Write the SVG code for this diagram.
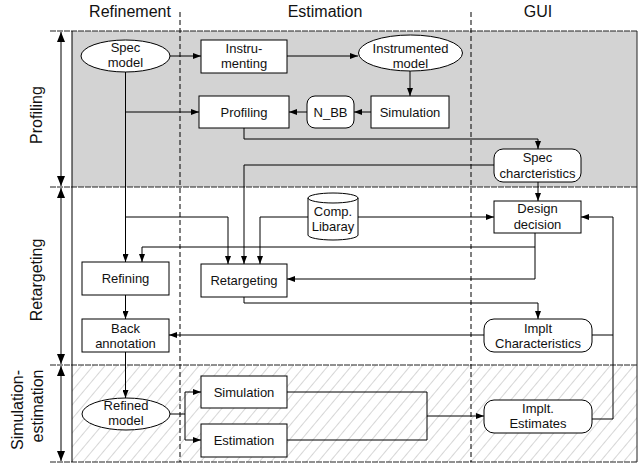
<svg xmlns="http://www.w3.org/2000/svg" width="638" height="463" viewBox="0 0 638 463">
<style>
text{font-family:"Liberation Sans",Arial,sans-serif;fill:#111}
.t{font-size:13px;text-anchor:middle}
.h{font-size:16px;text-anchor:middle}
.box{fill:#fff;stroke:#000;stroke-width:1}
.c{fill:none;stroke:#000;stroke-width:1}
.ca{fill:none;stroke:#000;stroke-width:1;marker-end:url(#ah)}
.band{fill:none;stroke:#222;stroke-width:1;stroke-dasharray:6,1}
.dash{stroke:#000;stroke-width:1;stroke-dasharray:5,3}
.da{stroke:#000;stroke-width:1;marker-start:url(#big);marker-end:url(#big)}
</style>
<defs>
<marker id="ah" markerUnits="userSpaceOnUse" markerWidth="8" markerHeight="6" refX="8" refY="3" orient="auto"><path d="M0,0 L8,3 L0,6 z" fill="#000"/></marker>
<marker id="big" markerUnits="userSpaceOnUse" markerWidth="10" markerHeight="8" refX="10" refY="4" orient="auto-start-reverse"><path d="M0,0 L10,4 L0,8 z" fill="#000"/></marker>
<pattern id="hatch" patternUnits="userSpaceOnUse" width="9" height="9" patternTransform="rotate(40)"><line x1="0" y1="0" x2="0" y2="9" stroke="#999" stroke-width="0.8"/></pattern>
</defs>
<!-- bands -->
<rect x="72" y="31" width="565" height="156" fill="#d3d3d3"/>
<rect x="72" y="365" width="565" height="97" fill="#fff"/>
<rect x="72" y="365" width="565" height="97" fill="url(#hatch)"/>
<line class="band" x1="50" y1="31" x2="637" y2="31"/>
<line class="band" x1="50" y1="187" x2="637" y2="187"/>
<line class="band" x1="50" y1="365" x2="637" y2="365"/>
<line class="band" x1="50" y1="462" x2="637" y2="462"/>
<line x1="72" y1="31" x2="72" y2="462" stroke="#000" stroke-width="1"/>
<line x1="637" y1="31" x2="637" y2="462" stroke="#222" stroke-width="1"/>
<line class="dash" x1="180" y1="12" x2="180" y2="462"/>
<line class="dash" x1="471" y1="12" x2="471" y2="462"/>
<line class="da" x1="61" y1="32" x2="61" y2="186"/>
<line class="da" x1="61" y1="188" x2="61" y2="364"/>
<line class="da" x1="61" y1="366" x2="61" y2="461"/>
<!-- headers -->
<text class="h" x="130" y="17">Refinement</text>
<text class="h" x="325" y="17">Estimation</text>
<text class="h" x="538" y="17">GUI</text>
<text class="h" transform="translate(42,115) rotate(-90)">Profiling</text>
<text class="h" transform="translate(42,280) rotate(-90)">Retargeting</text>
<text class="h" transform="translate(23,410) rotate(-90)">Simulation-</text>
<text class="h" transform="translate(43,406) rotate(-90)">estimation</text>
<!-- connectors -->
<g id="connectors">
<path class="ca" d="M170,56 H201"/>
<path class="ca" d="M287,56 H358"/>
<path class="ca" d="M410,71 V96"/>
<path class="ca" d="M371,112 H354"/>
<path class="ca" d="M307,112 H289"/>
<path class="ca" d="M125.5,72 V262"/>
<path class="ca" d="M125.5,112 H199"/>
<path class="ca" d="M125.5,217 H228 V264"/>
<path class="ca" d="M244,128 V139 H538 V149"/>
<path class="ca" d="M494,165 H244 V264"/>
<path class="ca" d="M538,182 V201"/>
<path class="ca" d="M308,217 H260 V264"/>
<path class="ca" d="M358,217 H494"/>
<path class="ca" d="M535,233 V247 H142 V262"/>
<path class="ca" d="M535,247 V279 H287"/>
<path class="ca" d="M244,297 V303 H538 V319"/>
<path class="ca" d="M484,335 H169"/>
<path class="ca" d="M125.5,295 V319"/>
<path class="ca" d="M125.5,352 V398"/>
<path class="c" d="M170,414 H185 M185,392 V440"/>
<path class="ca" d="M185,392 H201"/>
<path class="ca" d="M185,440 H201"/>
<path class="c" d="M287,392 H427 V440 H287"/>
<path class="ca" d="M427,416 H484"/>
<path class="c" d="M592,335 H613"/>
<path class="ca" d="M592,419 H613 V217 H581"/>
</g>
<!-- nodes -->
<g id="spec-model"><ellipse class="box" cx="125.5" cy="56" rx="44.5" ry="16"/><text class="t" x="125.5" y="52">Spec</text><text class="t" x="125.5" y="67">model</text></g>
<g id="instrumenting"><rect class="box" x="201" y="40" width="86" height="33"/><text class="t" x="244" y="53">Instru-</text><text class="t" x="244" y="68">menting</text></g>
<g id="instrumented-model"><ellipse class="box" cx="410.5" cy="53" rx="52" ry="18"/><text class="t" x="410.5" y="53">Instrumented</text><text class="t" x="410.5" y="68">model</text></g>
<g id="simulation-prof"><rect class="box" x="371" y="96" width="78" height="32"/><text class="t" x="410" y="116.5">Simulation</text></g>
<g id="n-bb"><rect class="box" x="307" y="96" width="47" height="32" rx="8"/><text class="t" x="330.5" y="116.5">N_BB</text></g>
<g id="profiling"><rect class="box" x="199" y="96" width="90" height="32"/><text class="t" x="244" y="116.5">Profiling</text></g>
<g id="spec-char"><rect class="box" x="494" y="149" width="87" height="33" rx="9"/><text class="t" x="537.5" y="162">Spec</text><text class="t" x="537.5" y="177.5">charcteristics</text></g>
<g id="design-decision"><rect class="box" x="494" y="201" width="87" height="32"/><text class="t" x="537.5" y="213">Design</text><text class="t" x="537.5" y="229">decision</text></g>
<g id="comp-library"><path class="box" d="M308,198 A25,5 0 0,1 358,198 V235 A25,5 0 0,1 308,235 Z"/><path class="c" d="M308,198 A25,5 0 0,0 358,198"/><text class="t" x="333" y="216">Comp.</text><text class="t" x="333" y="231">Libaray</text></g>
<g id="refining"><rect class="box" x="82" y="262" width="87" height="33"/><text class="t" x="125.5" y="283">Refining</text></g>
<g id="retargeting"><rect class="box" x="201" y="264" width="86" height="33"/><text class="t" x="244" y="285">Retargeting</text></g>
<g id="back-annotation"><rect class="box" x="82" y="319" width="87" height="33"/><text class="t" x="125.5" y="333">Back</text><text class="t" x="125.5" y="348">annotation</text></g>
<g id="implt-char"><rect class="box" x="484" y="319" width="108" height="33" rx="10"/><text class="t" x="538" y="333">Implt</text><text class="t" x="538" y="348">Characteristics</text></g>
<g id="refined-model"><ellipse class="box" cx="126" cy="414" rx="44" ry="16"/><text class="t" x="126" y="410">Refined</text><text class="t" x="126" y="425">model</text></g>
<g id="simulation-est"><rect class="box" x="201" y="376" width="86" height="32"/><text class="t" x="244" y="396.5">Simulation</text></g>
<g id="estimation"><rect class="box" x="201" y="424" width="86" height="33"/><text class="t" x="244" y="445">Estimation</text></g>
<g id="implt-estimates"><rect class="box" x="484" y="400" width="108" height="33" rx="10"/><text class="t" x="538" y="413">Implt.</text><text class="t" x="538" y="428">Estimates</text></g>
</svg>
